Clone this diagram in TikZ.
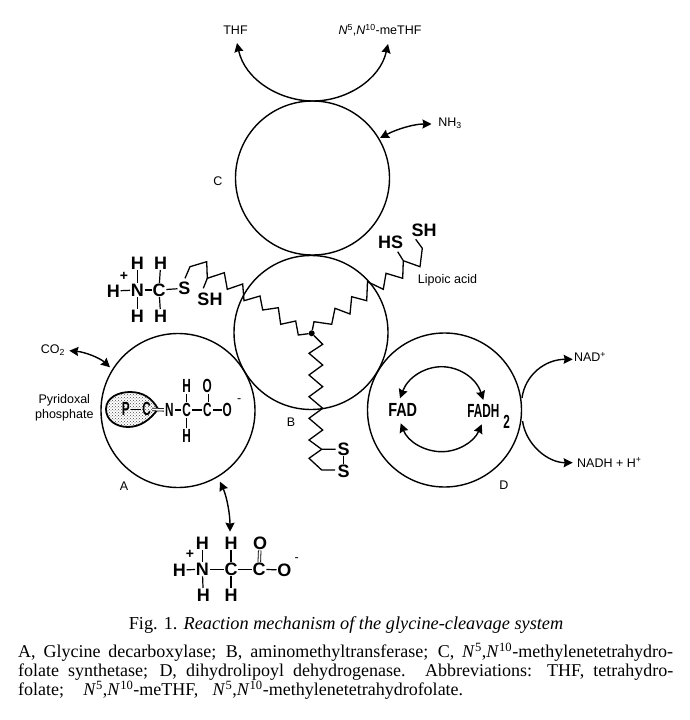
\documentclass[tikz,border=0pt]{standalone}
\usepackage{fontspec}
\setmainfont{Liberation Serif}
\setsansfont{Liberation Sans}
\usetikzlibrary{arrows.meta,patterns}
\tikzset{
  enzyme/.style={draw,line width=1.4pt},
  chainline/.style={line width=1.3pt,line join=miter},
  shuttle/.style={line width=1.4pt,{Stealth[length=9pt,width=9pt,inset=1pt]}-{Stealth[length=9pt,width=9pt,inset=1pt]}},
  yield/.style={line width=1.4pt,-{Stealth[length=9pt,width=9pt,inset=1pt]}},
  atom/.style={inner sep=0.6pt,font=\sffamily\bfseries\fontsize{18}{20}\selectfont},
  charge/.style={inner sep=0pt,font=\sffamily\bfseries\fontsize{14}{14}\selectfont},
  slim/.style={inner sep=1pt,font=\sffamily\bfseries\fontsize{19}{20}\selectfont},
  bond/.style={line width=1.2pt},
  tag/.style={inner sep=0pt,font=\sffamily\fontsize{12.5}{14}\selectfont},
  note/.style={inner sep=0pt,anchor=west,font=\fontsize{18}{18.5}\selectfont}
}
\newcommand{\Atom}[3]% pos, name, text
{\node[atom] (#2) at (#1) {#3};}
\newcommand{\Slim}[3]% pos, name, text
{\node[slim] (#2) at (#1) {\scalebox{0.62}[1]{#3}};}
\newcommand{\Bond}[2]%
{\draw[bond] (#1) -- (#2);}
\newcommand{\BondD}[2]%
{\draw[bond,line width=0.8pt,double,double distance=1.8pt] (#1) -- (#2);}
\newcommand{\Tag}[3]% pos, name, text
{\node[tag] (#2) at (#1) {#3};}
\newcommand{\Nf}[1]{\textit{N}\textsuperscript{#1}}
\begin{document}
\begin{tikzpicture}[x=1pt,y=-1pt]
  \useasboundingbox (0,0) rectangle (690,720);
  % enzymes
  \node[enzyme,circle,minimum size=154pt,inner sep=0] (C) at (312.5,178) {};
  \node[enzyme,circle,minimum size=154pt,inner sep=0] (B) at (311,332.5) {};
  \node[enzyme,circle,minimum size=154pt,inner sep=0] (A) at (178,410.5) {};
  \node[enzyme,circle,minimum size=154pt,inner sep=0] (D) at (444.5,410) {};
  \Tag{218,181}{labelC}{C}
  \Tag{291,422}{labelB}{B}
  \Tag{124,486.5}{labelA}{A}
  \Tag{504,485.5}{labelD}{D}
  % products of C
  \Tag{235.5,30.5}{THF}{THF}
  \Tag{380,30.5}{meTHF}{\Nf{5},\Nf{10}-meTHF}
  \Tag{450,123}{NHthree}{NH\textsubscript{3}}
  \coordinate (topC) at (313,101);
  \coordinate (THFend) at (237,43);
  \coordinate (meTHFend) at (388,44);
  \draw[yield] (topC) .. controls (280,101) and (245,80) .. (THFend);
  \draw[yield] (topC) .. controls (346,101) and (380,80) .. (meTHFend);
  \coordinate (NHa) at (380,138);
  \coordinate (NHb) at (431.5,124);
  \draw[shuttle] (NHa) .. controls (397,129) and (414,124) .. (NHb);
  % lipoic arms
  \node[circle,fill,inner sep=0,minimum size=6pt] (hub) at (311.7,333.3) {};
  \draw[chainline] (hub) -- (298.3,335) -- (295.7,321) -- (280.7,324.3) -- (278.3,307.7) -- (262.7,310) -- (260,296) -- (244,300.7)
    -- (242.7,284) -- (227.3,289.3) -- (224.3,272.7) -- (207.3,278.3) -- (206.7,261.7) -- (190,266.7) -- (185,278.3);
  \draw[chainline] (207.3,278.3) -- (203.3,288.3);
  \draw[chainline] (hub) -- (314,321.7) -- (331.7,324.3) -- (335,308.3) -- (350,314) -- (351.7,296.7) -- (366.7,300.7) -- (367.5,281.7)
    -- (383.3,289.3) -- (386,273.3) -- (402.7,278.3) -- (403.3,260.7) -- (397.7,251.7);
  \draw[chainline] (403.3,260.7) -- (420,266.7) -- (422.3,248.3) -- (415.7,239.3);
  \draw[chainline] (hub) -- (322.7,344.3) -- (309,353.3) -- (322.7,365) -- (309,375) -- (322.7,386.7) -- (309,396.7) -- (322.7,408.3)
    -- (309,418.3) -- (322.7,430) -- (309,440) -- (321.7,449.3) -- (335.5,449.3);
  \draw[chainline] (321.7,449.3) -- (309,458.3) -- (321.7,470) -- (335,470);
  \Atom{343.5,449}{Sa}{S}
  \Atom{343.5,471.5}{Sb}{S}
  \Bond{Sa}{Sb}
  \Atom{390.7,242.3}{HSr}{HS}
  \Atom{424,230.7}{SHr}{SH}
  \Tag{447.5,280.5}{lipoic}{Lipoic acid}
  % methylamine on the left arm
  \Atom{113.3,291}{Ha}{H}
  \Atom{137.3,290}{Na}{N}
  \Atom{159,290}{Ca}{C}
  \Atom{184.3,288.3}{Sc}{S}
  \Atom{210,299.3}{SHl}{SH}
  \Atom{137.3,263}{Hb}{H}
  \Atom{137.3,316}{Hc}{H}
  \Atom{160.7,263}{Hd}{H}
  \Atom{160.7,316}{He}{H}
  \node[charge] (Pa) at (124,276.5) {+};
  \Bond{Ha}{Na}
  \Bond{Na}{Ca}
  \Bond{Ca}{Sc}
  \Bond{Hb}{Na}
  \Bond{Hc}{Na}
  \Bond{Hd}{Ca}
  \Bond{He}{Ca}
  % A: pyridoxal phosphate
  \Tag{64.3,400.7}{pyri}{Pyridoxal}
  \Tag{64.3,415.7}{phos}{phosphate}
  \Tag{53,350.5}{COtwo}{CO\textsubscript{2}}
  \coordinate (COa) at (69.3,350.7);
  \coordinate (COb) at (110,367.3);
  \draw[shuttle] (COa) .. controls (85,352) and (100,358) .. (COb);
  \draw[line width=1.8pt,pattern=crosshatch dots,pattern color=black!70]
    (106,409) .. controls (106,398) and (118,392) .. (130,392) .. controls (143,392) and (152,398) .. (158,409)
    .. controls (150,420) and (140,427) .. (128,427) .. controls (116,427) and (106,420) .. (106,409) -- cycle;
  \Slim{125.7,409.3}{Pb}{P}
  \Slim{146.7,409.3}{Cb}{C}
  \Slim{169.3,410}{Nb}{N}
  \Slim{186.7,410}{Cc}{C}
  \Slim{207.3,410}{Cd}{C}
  \Slim{227.3,410}{Ob}{O}
  \Slim{186.7,386}{Hf}{H}
  \Slim{186.7,436}{Hg}{H}
  \Slim{207.3,386}{Oc}{O}
  \Tag{239.3,400.5}{minusA}{-}
  \Bond{Pb}{Cb}
  \BondD{Cb}{Nb}
  \Bond{Nb}{Cc}
  \Bond{Cc}{Cd}
  \Bond{Cd}{Ob}
  \Bond{Hf}{Cc}
  \Bond{Hg}{Cc}
  \BondD{Oc}{Cd}
  % glycine
  \Atom{179.3,570}{Hh}{H}
  \Atom{202.3,569.3}{Nc}{N}
  \Atom{231,569.3}{Ce}{C}
  \Atom{259,569.3}{Cf}{C}
  \Atom{284.3,570}{Od}{O}
  \Atom{202.3,543.3}{Hi}{H}
  \Atom{203.3,595}{Hj}{H}
  \Atom{231,543.3}{Hk}{H}
  \Atom{231,595}{Hl}{H}
  \Atom{260,543.3}{Oe}{O}
  \node[charge] (Pc) at (190,554.5) {+};
  \Tag{296.7,560}{minusG}{-}
  \Bond{Hh}{Nc}
  \Bond{Nc}{Ce}
  \Bond{Ce}{Cf}
  \Bond{Cf}{Od}
  \Bond{Hi}{Nc}
  \Bond{Hj}{Nc}
  \Bond{Hk}{Ce}
  \Bond{Hl}{Ce}
  \BondD{Oe}{Cf}
  \coordinate (GLa) at (220,481.7);
  \coordinate (GLb) at (230,531.7);
  \draw[shuttle] (GLa) .. controls (227,497) and (230,515) .. (GLb);
  % D: flavin cycle
  \node[slim] (FAD) at (402.7,410) {\scalebox{0.76}[1]{FAD}};
  \Slim{483.3,410.5}{FADH}{FADH}
  \Slim{506.7,421.5}{two}{2}
  \coordinate (FADa) at (400,398.3);
  \coordinate (FADb) at (483.3,400);
  \coordinate (FADc) at (400.7,423.3);
  \coordinate (FADd) at (481.7,424.3);
  \draw[shuttle] (FADa) .. controls (408,377) and (425,366.7) .. (441.7,366.7) .. controls (458,366.7) and (476,377) .. (FADb);
  \draw[shuttle] (FADc) .. controls (408,442) and (425,451.7) .. (441.7,451.7) .. controls (458,451.7) and (474,442) .. (FADd);
  \Tag{590,357}{NAD}{NAD\textsuperscript{+}}
  \node[tag,anchor=west] (NADH) at (577,462.5) {NADH + H\textsuperscript{+}};
  \coordinate (NADa) at (522,398);
  \coordinate (NADb) at (572.7,359.3);
  \coordinate (NADc) at (522.5,421);
  \coordinate (NADd) at (572.7,462.7);
  \draw[yield] (NADa) .. controls (525,375) and (545,359.3) .. (NADb);
  \draw[yield] (NADc) .. controls (526,445) and (548,462.7) .. (NADd);
  % caption
  \node[inner sep=0pt,font=\fontsize{18.3}{18.5}\selectfont] (caption) at (346,625) {Fig. 1. \textit{Reaction mechanism of the glycine-cleavage system}};
  \node[note,align=left] (legend) at (18,671.5) {%
    \makebox[655pt][s]{A, Glycine decarboxylase; B, aminomethyltransferase; C, \Nf{5},\Nf{10}-methylenetetrahydro-}\\
    \makebox[655pt][s]{folate synthetase; D, dihydrolipoyl dehydrogenase. Abbreviations: THF, tetrahydro-}\\
    \makebox[445pt][s]{folate; \Nf{5},\Nf{10}-meTHF, \Nf{5},\Nf{10}-methylenetetrahydrofolate.}};
\end{tikzpicture}
\end{document}
